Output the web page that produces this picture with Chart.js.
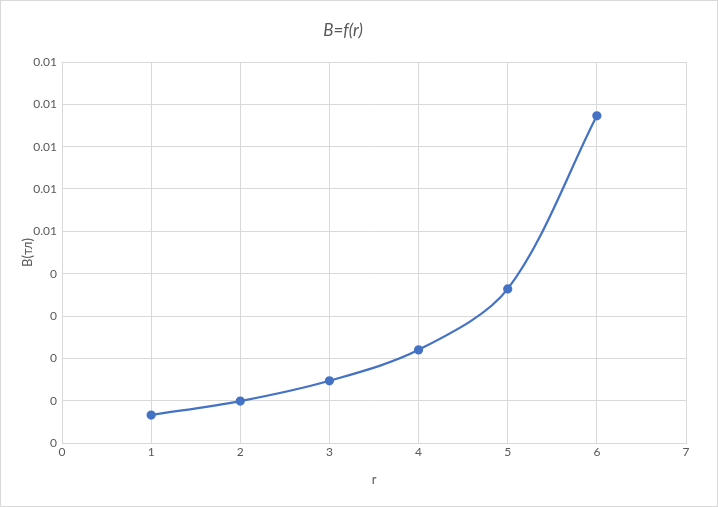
<!DOCTYPE html>
<html>
<head>
<meta charset="utf-8">
<script src="https://cdn.jsdelivr.net/npm/chart.js@4"></script>
<style>
  html, body { margin: 0; padding: 0; background: #fff; }
  #wrap { width: 718px; height: 507px; position: relative; }
</style>
</head>
<body>
<div id="wrap"><canvas id="c" width="718" height="507"></canvas></div>
<script>
const rValues = [1, 2, 3, 4, 5, 6];
const bValues = [0.00066, 0.00099, 0.00147, 0.0022, 0.00364, 0.00773];
const xTickValues = [0, 1, 2, 3, 4, 5, 6, 7];
const yTickValues = [0, 0.001, 0.002, 0.003, 0.004, 0.005, 0.006, 0.007, 0.008, 0.009];
const yTickLabels = ['0', '0', '0', '0', '0', '0.01', '0.01', '0.01', '0.01', '0.01'];

const GRAY = '#595959';
const GRID = '#d9d9d9';
const FONT = 'Lato, "Open Sans", sans-serif';

const borderPlugin = {
  id: 'outerBorder',
  afterDraw(chart) {
    const ctx = chart.ctx;
    ctx.save();
    ctx.strokeStyle = GRID;
    ctx.lineWidth = 1;
    ctx.strokeRect(0.5, 0.5, chart.width - 1, chart.height - 1);
    ctx.restore();
  }
};

new Chart(document.getElementById('c'), {
  type: 'scatter',
  data: {
    datasets: [{
      data: rValues.map((r, i) => ({ x: r, y: bValues[i] })),
      showLine: true,
      borderColor: '#4472C4',
      backgroundColor: '#4472C4',
      borderWidth: 2.25,
      pointRadius: 3.5,
      pointHoverRadius: 3.5,
      tension: 0.32,
      cubicInterpolationMode: 'default'
    }]
  },
  plugins: [borderPlugin],
  options: {
    responsive: false,
    animation: false,
    layout: { padding: { left: 0, right: 32, top: 0, bottom: 0 } },
    plugins: {
      legend: { display: false },
      tooltip: { enabled: false },
      title: {
        display: true,
        text: 'B=f(r)',
        color: GRAY,
        font: { family: FONT, size: 17, style: 'italic', weight: 'normal' },
        padding: { top: 20, bottom: 21.6 }
      }
    },
    scales: {
      x: {
        type: 'linear',
        min: 0, max: 7,
        afterBuildTicks(scale) { scale.ticks = xTickValues.map(v => ({ value: v })); },
        afterFit(scale) { scale.height = 64; },
        grid: { color: GRID, drawTicks: false },
        border: { color: GRID },
        ticks: { color: GRAY, font: { family: FONT, size: 12 }, padding: 2 },
        title: {
          display: true, text: 'r', color: GRAY,
          font: { family: FONT, size: 13 },
          padding: { top: 0, bottom: 19 }
        }
      },
      y: {
        type: 'linear',
        min: 0, max: 0.009,
        afterBuildTicks(scale) { scale.ticks = yTickValues.map(v => ({ value: v })); },
        afterFit(scale) { scale.width = 62; },
        grid: { color: GRID, drawTicks: false },
        border: { color: GRID },
        ticks: {
          color: GRAY, font: { family: FONT, size: 12 }, padding: 5,
          callback: (v, i) => yTickLabels[i]
        },
        title: {
          display: true, text: 'B(тл)', color: GRAY,
          font: { family: FONT, size: 13 },
          padding: { top: 20, bottom: 0 }
        }
      }
    }
  }
});
</script>
</body>
</html>
